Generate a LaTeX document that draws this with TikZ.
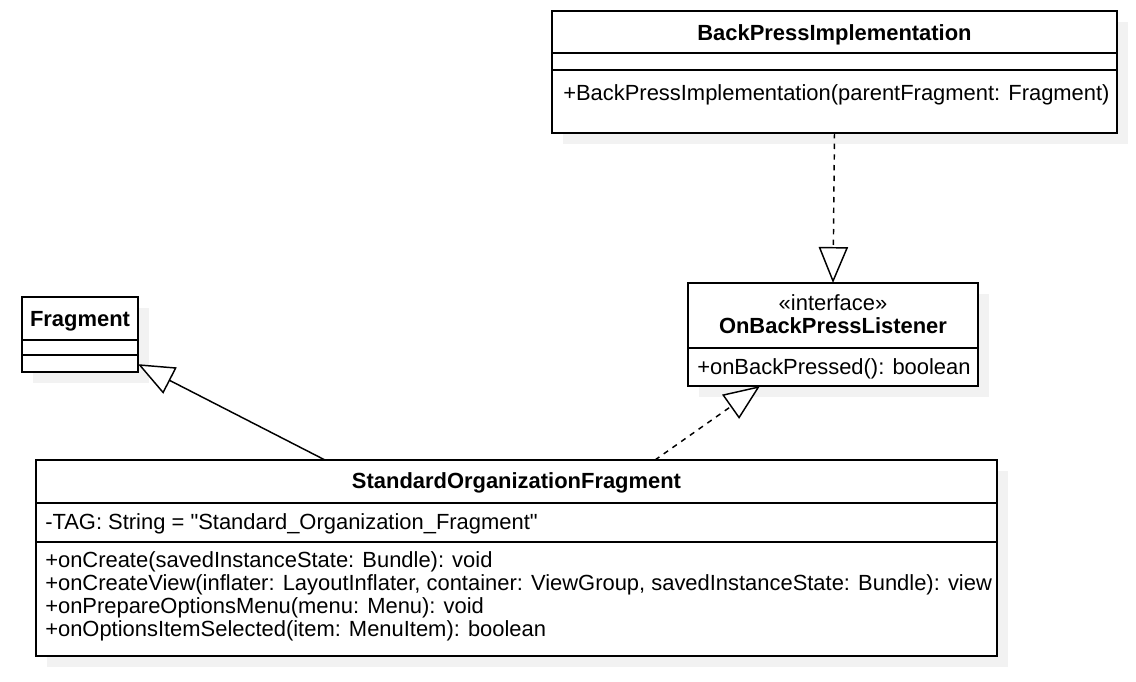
\documentclass[tikz,border=0pt]{standalone}
\usepackage{fontspec}
\setmainfont{Liberation Sans}[Ligatures=TeXOff]
\usetikzlibrary{arrows.meta}
\definecolor{shadowgray}{HTML}{F2F2F2}
\begin{document}
\begin{tikzpicture}[x=0.75pt,y=-0.75pt,
  every node/.style={font=\fontsize{16.45}{18}\selectfont, inner sep=0pt},
  umlbox/.style 2 args={draw, line width=1.1pt, fill=white, rectangle,
    anchor=north west, outer sep=0pt,
    minimum width=#1*0.75pt, minimum height=#2*0.75pt,
    preaction={draw=none, fill=shadowgray,
      transform canvas={shift={(8.25pt,-8.25pt)}}}},
  divider/.style={line width=1.1pt},
  member/.style={anchor=base west},
  title/.style={anchor=base, font=\fontsize{16.45}{18}\selectfont\bfseries},
  headtri/.style={-{Triangle[length=27pt, width=22pt, fill=white]}},
  gen/.style={line width=1.1pt, headtri},
  real/.style={line width=1.1pt, dash pattern=on 4pt off 4pt, headtri}
]
\useasboundingbox (0,0) rectangle (1136,682);

% boxes
\node[umlbox={565}{122}] (bpi) at (552,11) {};
\node[umlbox={290}{103}] (iface) at (688,283) {};
\node[umlbox={116}{75}] (frag) at (22,297) {};
\node[umlbox={961}{196}] (sof) at (36,460) {};

% compartment dividers
\draw[divider] (bpi.west |- 0,53) -- (bpi.east |- 0,53);
\draw[divider] (bpi.west |- 0,70) -- (bpi.east |- 0,70);
\draw[divider] (iface.west |- 0,348) -- (iface.east |- 0,348);
\draw[divider] (frag.west |- 0,340) -- (frag.east |- 0,340);
\draw[divider] (frag.west |- 0,355) -- (frag.east |- 0,355);
\draw[divider] (sof.west |- 0,503) -- (sof.east |- 0,503);
\draw[divider] (sof.west |- 0,542) -- (sof.east |- 0,542);

% texts
\node[title] (bpiT) at (834.5,40.5) {BackPressImplementation};
\node[member] (bpiM) at (563,100) {+BackPressImplementation(parentFragment: Fragment)};

\node[anchor=base] (ifS) at (833,310) {«interface»};
\node[title] (ifT) at (833,333) {OnBackPressListener};
\node[member] (ifM) at (697,374) {+onBackPressed(): boolean};

\node[title] (fragT) at (80,326) {Fragment};

\node[title] (sofT) at (516.5,488.5) {StandardOrganizationFragment};
\node[member] (sofA) at (45,529.5) {-TAG: String = "Standard\_Organization\_Fragment"};
\node[member] (sofM1) at (45,567.5) {+onCreate(savedInstanceState: Bundle): void};
\node[member] (sofM2) at (45,590.5) {+onCreateView(inflater: LayoutInflater, container: ViewGroup, savedInstanceState: Bundle): view};
\node[member] (sofM3) at (45,613.5) {+onPrepareOptionsMenu(menu: Menu): void};
\node[member] (sofM4) at (45,636.5) {+onOptionsItemSelected(item: MenuItem): boolean};

% connectors
\coordinate (sofGen) at (325,460);
\coordinate (sofReal) at (655,460);
\draw[real] (bpi.south) -- (iface.north);
\draw[gen] (sofGen) -- (frag);
\draw[real] (sofReal) -- (iface);
\end{tikzpicture}
\end{document}
